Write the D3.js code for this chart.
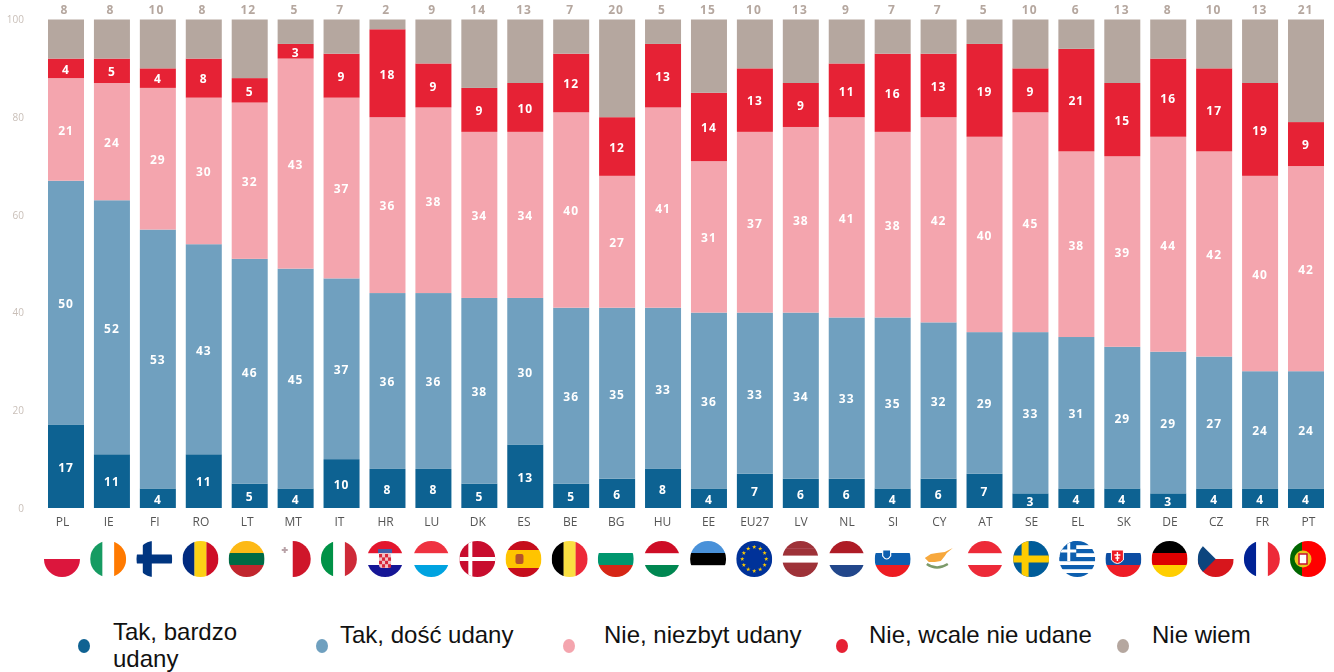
<!DOCTYPE html>
<html>
<head>
<meta charset="utf-8">
<script src="https://d3js.org/d3.v7.min.js"></script>
<style>
html, body { margin: 0; padding: 0; background: #fff; }
svg { display: block; }
.val { font-family: "Open Sans", sans-serif; font-weight: 700; font-size: 12px; letter-spacing: 1px; text-anchor: middle; }
.legend text { font-family: "Liberation Sans", Arial, sans-serif; font-size: 24px; fill: #111; }
</style>
</head>
<body>
<script>
// Stacked bars, one per country, with a round flag under each

var w = 1334, h = 672;

var countries = ['PL','IE','FI','RO','LT','MT','IT','HR','LU','DK','ES','BE','BG','HU','EE','EU27','LV','NL','SI','CY','AT','SE','EL','SK','DE','CZ','FR','PT'];

var veryGood = [17,11,4,11,5,4,10,8,8,5,13,5,6,8,4,7,6,6,4,6,7,3,4,4,3,4,4,4];
var fairlyGood = [50,52,53,43,46,45,37,36,36,38,30,36,35,33,36,33,34,33,35,32,29,33,31,29,29,27,24,24];
var notVery = [21,24,29,30,32,43,37,36,38,34,34,40,27,41,31,37,38,41,38,42,40,45,38,39,44,42,40,42];
var notAtAll = [4,5,4,8,5,3,9,18,9,9,10,12,12,13,14,13,9,11,16,13,19,9,21,15,16,17,19,9];
var dontKnow = [8,8,10,8,12,5,7,2,9,14,13,7,20,5,15,10,13,9,7,7,5,10,6,13,8,10,13,21];

var yTicks = [0,20,40,60,80,100];

var seriesNames = ['Tak, bardzo udany','Tak, dość udany','Nie, niezbyt udany','Nie, wcale nie udane','Nie wiem'];
var seriesValues = [veryGood, fairlyGood, notVery, notAtAll, dontKnow];
var seriesColors = ['#0f6292','#6fa0bf','#f4a5ae','#e62134','#b5a79f'];

// flag stripes: direction then colours, 'none' leaves the page white
var flagStripes = {
	PL: ['h','none','#dc143c'], IE: ['v','#169b62','none','#ff7a00'], FI: ['h','none'],
	RO: ['v','#002b7f','#fcd116','#ce1126'], LT: ['h','#fdb913','#006a44','#c1272d'],
	MT: ['v','none','#cf142b'], IT: ['v','#009246','none','#ce2b37'],
	HR: ['h','#e3172d','none','#171796'], LU: ['h','#ef3340','none','#00a3e0'],
	DK: ['h','#c8102e'], ES: ['h','#c60b1e','#ffc400','#ffc400','#c60b1e'],
	BE: ['v','#000','#fae042','#ed2939'], BG: ['h','none','#00966e','#d62612'],
	HU: ['h','#ce1126','none','#008751'], EE: ['h','#4891d9','#000','none'],
	EU27: ['h','#003399'], LV: ['h','#9e3039','#9e3039','none','#9e3039','#9e3039'],
	NL: ['h','#ae1c28','none','#21468b'], SI: ['h','none','#0d5eaf','#ed1c24'],
	CY: ['h','none'], AT: ['h','#ed2939','none','#ed2939'], SE: ['h','#005b99'],
	EL: ['h','#0d5eaf','none','#0d5eaf','none','#0d5eaf','none','#0d5eaf','none','#0d5eaf'],
	SK: ['h','none','#0b4ea2','#ee1c25'], DE: ['h','#000','#dd0000','#ffce00'],
	CZ: ['h','none','#d7141a'], FR: ['v','#002395','none','#ed2939'], PT: ['v','#006600','#ff0000','#ff0000']
};

var y = d3.scaleLinear().domain([0, 100]).range([508, 19.5]);
var x = d3.scaleBand().domain(countries).range([48, 1324]).paddingInner(0.216);
// the labels and flags run on a slightly wider pitch than the bars
var xLabel = d3.scalePoint().domain(countries).range([62, 1308]);
var xTotal = d3.scalePoint().domain(countries).range([64.5, 1305.5]);

var stack = d3.stack().keys(d3.range(5)).value(function(d, k) {
	return seriesValues[k][d];
});
var layers = stack(d3.range(countries.length));

var svg = d3.select('body').append('svg').attr('width', w).attr('height', h);
var defs = svg.append('defs');
defs.append('filter').attr('id', 'soft').attr('filterUnits', 'userSpaceOnUse')
	.attr('x', 0).attr('y', 0).attr('width', w).attr('height', h)
	.append('feGaussianBlur').attr('stdDeviation', 0.65);

var chart = svg.append('g').attr('filter', 'url(#soft)');

// axes
var yAxis = chart.append('g').attr('transform', 'translate(28,0)')
	.call(d3.axisLeft(y).tickValues(yTicks).tickSize(0).tickPadding(4));
yAxis.select('.domain').remove();
yAxis.selectAll('text').style('font-family', '"Open Sans", sans-serif').style('font-size', '10px').attr('fill', '#c9bfb8');

var xAxis = chart.append('g').attr('transform', 'translate(0,522)')
	.call(d3.axisBottom(xLabel).tickSize(0).tickPadding(0));
xAxis.select('.domain').remove();
xAxis.selectAll('text').attr('dy', '0.35em').attr('y', 0)
	.style('font-family', '"Open Sans", sans-serif').style('font-size', '12px').attr('fill', '#555');

// bars
var layer = chart.selectAll('.layer').data(layers).enter().append('g')
	.attr('class', 'layer')
	.attr('fill', function(d, i) { return seriesColors[i]; });

layer.selectAll('rect').data(function(d) { return d; }).enter().append('rect')
	.attr('x', function(d) { return x(countries[d.data]); })
	.attr('width', x.bandwidth())
	.attr('y', function(d) { return y(d[1]); })
	.attr('height', function(d) { return y(d[0]) - y(d[1]); });

// values inside the bars, the last series sits on top of them
var labels = chart.selectAll('.labels').data(layers.slice(0, 4)).enter().append('g').attr('class', 'labels');
labels.selectAll('text').data(function(d) { return d; }).enter().append('text')
	.attr('class', 'val')
	.attr('fill', '#fff')
	.attr('x', function(d) { return x(countries[d.data]) + x.bandwidth() / 2; })
	.attr('y', function(d) { return y((d[0] + d[1]) / 2) + 1; })
	.attr('dy', '0.36em')
	.text(function(d) { return d[1] - d[0]; });

chart.selectAll('.total').data(dontKnow).enter().append('text')
	.attr('class', 'val')
	.attr('fill', '#b5a79f')
	.attr('x', function(d, i) { return xTotal(countries[i]); })
	.attr('y', 10)
	.attr('dy', '0.36em')
	.text(function(d) { return d; });

// flags
var R = 18;
defs.append('clipPath').attr('id', 'disc').append('circle').attr('r', R);

function cross(g, color, cx, size) {
	g.append('rect').attr('x', cx - size / 2).attr('y', -R).attr('width', size).attr('height', 2 * R).attr('fill', color);
	g.append('rect').attr('x', -R).attr('y', -size / 2).attr('width', 2 * R).attr('height', size).attr('fill', color);
}

var extras = {
	FI: function(g) { cross(g, '#003580', -7, 9); },
	DK: function(g) { cross(g, '#fff', -7, 4); },
	SE: function(g) { cross(g, '#fecc00', -6, 7); },
	MT: function(g) {
		g.append('path').attr('d', 'M-11,-9h6M-8,-12v6').attr('stroke', '#b9a3a8').attr('stroke-width', 2);
	},
	HR: function(g) {
		g.append('rect').attr('x', -6).attr('y', -6).attr('width', 12).attr('height', 15).attr('rx', 3).attr('fill', '#f0c0c6');
		d3.range(4).forEach(function(r) {
			d3.range(4).forEach(function(c) {
				if ((r + c) % 2 == 0) g.append('rect').attr('x', -6 + c * 3).attr('y', -5 + r * 3.4).attr('width', 3).attr('height', 3.4).attr('fill', '#d9263b');
			});
		});
		g.append('rect').attr('x', -7).attr('y', -10).attr('width', 14).attr('height', 4).attr('fill', '#3f5fa8');
	},
	ES: function(g) {
		g.append('rect').attr('x', -8).attr('y', -5).attr('width', 8).attr('height', 10).attr('rx', 2).attr('fill', '#b5532c');
	},
	EU27: function(g) {
		d3.range(12).forEach(function(i) {
			var a = i * Math.PI / 6;
			g.append('path').attr('d', d3.symbol(d3.symbolStar, 6)())
				.attr('transform', 'translate(' + 12 * Math.sin(a) + ',' + (-12 * Math.cos(a)) + ')')
				.attr('fill', '#ffcc00');
		});
	},
	SI: function(g) {
		g.append('path').attr('d', 'M-10,-9h8v6q-4,6 -8,0z').attr('fill', '#0d5eaf').attr('stroke', '#fff').attr('stroke-width', 1.2);
	},
	CY: function(g) {
		g.append('path').attr('d', 'M-14,-1L-8,-5L-2,-6L6,-7L14,-11L8,-6L6,-3L2,2L-4,3L-10,3Z').attr('fill', '#f7a83c');
		g.append('path').attr('d', 'M-12,5Q-2,12 9,5').attr('fill', 'none').attr('stroke', '#7c9a6a').attr('stroke-width', 2.4);
	},
	EL: function(g) {
		g.append('rect').attr('x', -R).attr('y', -R).attr('width', 17).attr('height', 20).attr('fill', '#0d5eaf');
		g.append('rect').attr('x', -10).attr('y', -R).attr('width', 3).attr('height', 20).attr('fill', '#fff');
		g.append('rect').attr('x', -R).attr('y', -9.5).attr('width', 17).attr('height', 3).attr('fill', '#fff');
	},
	SK: function(g) {
		g.append('path').attr('d', 'M-12,-9h12v10q-6,7 -12,0z').attr('fill', '#ee1c25').attr('stroke', '#fff').attr('stroke-width', 1);
		g.append('path').attr('d', 'M-6,-7v9M-9,-4h6M-8,-1h4').attr('stroke', '#fff').attr('stroke-width', 1.4);
	},
	CZ: function(g) {
		g.append('path').attr('d', 'M-18,-18L0,0L-18,18Z').attr('fill', '#11457e');
	},
	PT: function(g) {
		g.append('circle').attr('cx', -5).attr('r', 8.5).attr('fill', '#e8c61c');
		g.append('rect').attr('x', -9).attr('y', -5).attr('width', 8).attr('height', 10).attr('fill', '#fff').attr('stroke', '#c8102e').attr('stroke-width', 1.5);
	}
};

var flags = chart.selectAll('.flag').data(countries).enter().append('g')
	.attr('class', 'flag')
	.attr('transform', function(d) { return 'translate(' + xLabel(d) + ',559)'; });

flags.each(function(code) {
	var g = d3.select(this).append('g').attr('clip-path', 'url(#disc)');
	var spec = flagStripes[code], n = spec.length - 1, vertical = spec[0] == 'v';
	var s = d3.scaleLinear().domain([0, n]).range([-R, R]);
	d3.range(n).forEach(function(i) {
		var c = spec[i + 1];
		if (c == 'none') return;
		g.append('rect')
			.attr('x', vertical ? s(i) : -R)
			.attr('y', vertical ? -R : s(i))
			.attr('width', vertical ? s(i + 1) - s(i) + 0.2 : 2 * R)
			.attr('height', vertical ? 2 * R : s(i + 1) - s(i) + 0.2)
			.attr('fill', c);
	});
	if (extras[code]) extras[code](g);
});

// legend sits outside the blur, its text is sharp in the original too
var legendDotX = [84, 322, 569, 842, 1123];
var legendTextX = [113, 340, 604, 869, 1152];

var legend = svg.append('g').attr('class', 'legend');
seriesNames.forEach(function(name, i) {
	legend.append('ellipse').attr('cx', legendDotX[i]).attr('cy', 646).attr('rx', 6).attr('ry', 7).attr('fill', seriesColors[i]);
	var lines = i == 0 ? ['Tak, bardzo', 'udany'] : [name];
	// the wrapped name starts a little higher so both lines fit above the page edge
	lines.forEach(function(t, j) {
		legend.append('text').attr('x', legendTextX[i]).attr('y', lines.length > 1 ? 639.5 + j * 27.2 : 643).text(t);
	});
});
</script>
</body>
</html>
